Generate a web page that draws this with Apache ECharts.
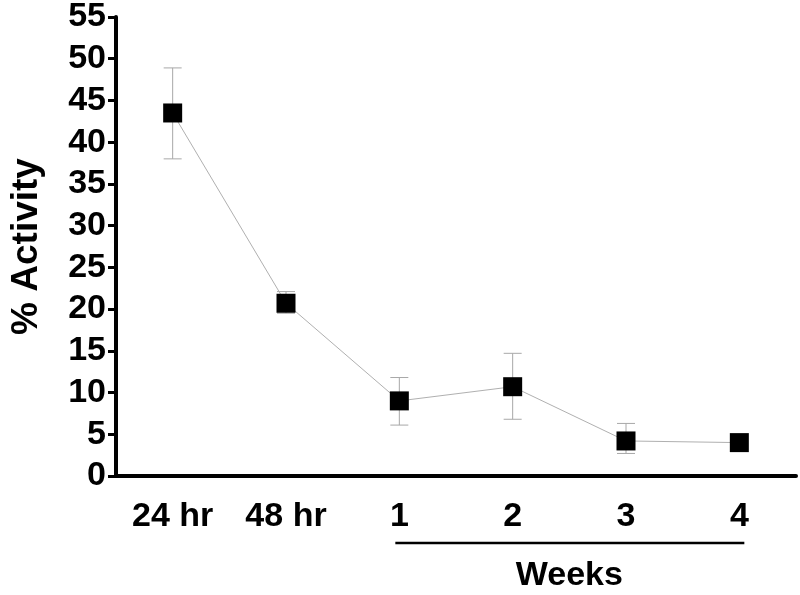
<!DOCTYPE html>
<html>
<head>
<meta charset="utf-8">
<script src="https://cdn.jsdelivr.net/npm/echarts@6/dist/echarts.min.js"></script>
<style>
html,body{margin:0;padding:0;background:#fff;}
#main{width:800px;height:595px;}
</style>
</head>
<body>
<div id="main"></div>
<script>
var categories = ['24 hr', '48 hr', '1', '2', '3', '4'];
var activity = [43.5, 20.7, 9.0, 10.7, 4.2, 4.0];
var errLow = [38.0, 19.5, 6.1, 6.8, 2.7, null];
var errHigh = [48.9, 22.1, 11.8, 14.7, 6.3, null];
var yTicks = [0, 5, 10, 15, 20, 25, 30, 35, 40, 45, 50, 55];
var weekCategories = ['1', '4'];

var FONT = '"Liberation Sans", Arial, Helvetica, sans-serif';

var errData = [];
for (var i = 0; i < categories.length; i++) {
  if (errLow[i] != null) errData.push([i, errLow[i], errHigh[i]]);
}

var chart = echarts.init(document.getElementById('main'), null, {renderer: 'canvas'});
var option = {
  animation: false,
  backgroundColor: '#ffffff',
  grid: {left: 110, right: 4, top: 16, bottom: 119, containLabel: false},
  xAxis: {
    type: 'category',
    data: categories,
    boundaryGap: true,
    axisLine: {show: true, lineStyle: {color: '#000', width: 4}},
    axisTick: {show: false},
    axisLabel: {
      interval: 0,
      margin: 24,
      color: '#000',
      fontFamily: FONT,
      fontWeight: 'bold',
      fontSize: 34
    },
    splitLine: {show: false}
  },
  yAxis: {
    type: 'value',
    min: yTicks[0],
    max: yTicks[yTicks.length - 1],
    interval: 5,
    name: '% Activity',
    nameLocation: 'middle',
    nameGap: 71,
    nameRotate: 90,
    nameTextStyle: {color: '#000', fontFamily: FONT, fontWeight: 'bold', fontSize: 37},
    axisLine: {show: true, lineStyle: {color: '#000', width: 4}},
    axisTick: {show: true, inside: false, length: 8, lineStyle: {color: '#000', width: 3}},
    axisLabel: {
      margin: 10,
      color: '#000',
      fontFamily: FONT,
      fontWeight: 'bold',
      fontSize: 34
    },
    splitLine: {show: false}
  },
  series: [
    {
      type: 'custom',
      name: 'error',
      data: errData,
      z: 1,
      renderItem: function (params, api) {
        var x = api.value(0);
        var lo = api.coord([x, api.value(1)]);
        var hi = api.coord([x, api.value(2)]);
        var hw = 9;
        var style = {stroke: '#a8a8a8', lineWidth: 1, fill: null};
        return {
          type: 'group',
          children: [
            {type: 'line', shape: {x1: hi[0], y1: hi[1], x2: lo[0], y2: lo[1]}, style: style},
            {type: 'line', shape: {x1: hi[0] - hw, y1: hi[1], x2: hi[0] + hw, y2: hi[1]}, style: style},
            {type: 'line', shape: {x1: lo[0] - hw, y1: lo[1], x2: lo[0] + hw, y2: lo[1]}, style: style}
          ]
        };
      }
    },
    {
      type: 'line',
      name: 'activity',
      data: activity,
      z: 3,
      symbol: 'rect',
      symbolSize: 19,
      showAllSymbol: true,
      itemStyle: {color: '#000', borderWidth: 0},
      lineStyle: {color: '#b0b0b0', width: 1}
    }
  ]
};
chart.setOption(option);

function drawWeeks() {
  var x1 = chart.convertToPixel({xAxisIndex: 0}, weekCategories[0]);
  var x2 = chart.convertToPixel({xAxisIndex: 0}, weekCategories[1]);
  var axisY = chart.convertToPixel({yAxisIndex: 0}, 0);
  var lineY = axisY + 67;
  chart.setOption({
    graphic: [
      {type: 'line', shape: {x1: x1 - 4, y1: lineY, x2: x2 + 5, y2: lineY}, style: {stroke: '#000', lineWidth: 2.5}},
      {type: 'text', x: (x1 + x2) / 2, y: lineY + 33, style: {text: 'Weeks', fill: '#000', font: 'bold 34px ' + FONT, align: 'center', verticalAlign: 'middle'}}
    ]
  });
}
drawWeeks();
</script>
</body>
</html>
